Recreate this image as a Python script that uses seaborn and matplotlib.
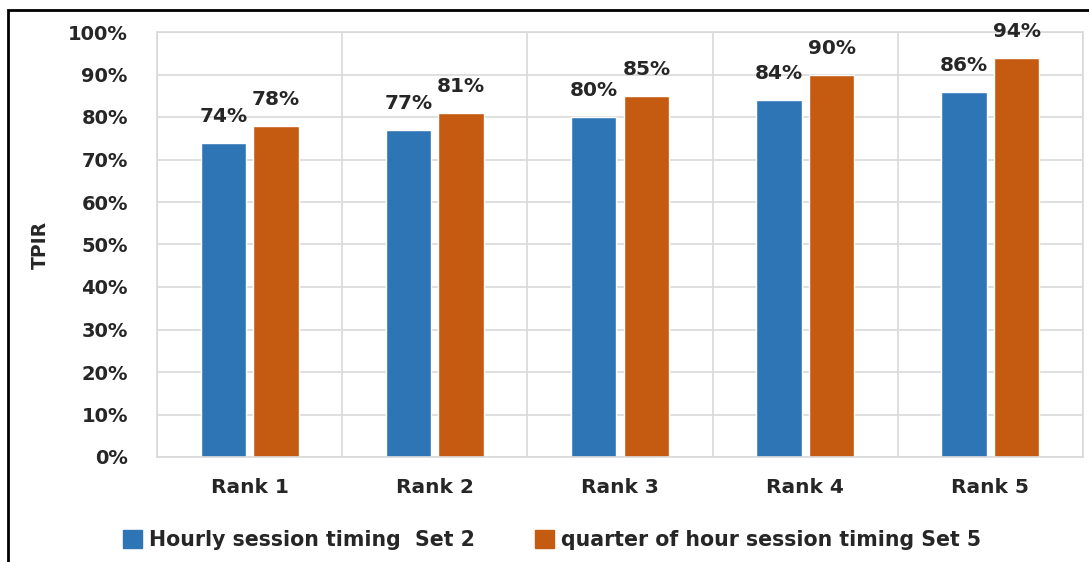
"""TPIR per rank for two session timing sets."""
import matplotlib
matplotlib.use('Agg')
import matplotlib.pyplot as plt
import pandas as pd
import seaborn as sns
from matplotlib.patches import Rectangle
from matplotlib.ticker import PercentFormatter, MultipleLocator, FixedLocator

# data
RANKS = ['Rank 1', 'Rank 2', 'Rank 3', 'Rank 4', 'Rank 5']
HOURLY_SET2 = [0.74, 0.77, 0.80, 0.84, 0.86]
QUARTER_SET5 = [0.78, 0.81, 0.85, 0.90, 0.94]
SERIES = ['Hourly session timing  Set 2', 'quarter of hour session timing Set 5']
COLORS = ['#2E75B6', '#C55A11']

df = pd.DataFrame({
    'rank': RANKS * 2,
    'tpir': HOURLY_SET2 + QUARTER_SET5,
    'series': [SERIES[0]] * len(RANKS) + [SERIES[1]] * len(RANKS),
})

sns.set_style('white')
plt.rcParams['font.family'] = ['DejaVu Sans']
TXT = '#262626'

fig = plt.figure(figsize=(10.89, 5.62), dpi=100)
ax = fig.add_axes([157 / 1089, 1 - 457 / 562, (1083 - 157) / 1089, (457 - 32) / 562])

sns.barplot(data=df, x='rank', y='tpir', hue='series', palette=COLORS,
            width=0.57, gap=0.14, saturation=1, ax=ax, legend=False)

# labels above the bars
for cont, vals in zip(ax.containers, [HOURLY_SET2, QUARTER_SET5]):
    ax.bar_label(cont, labels=['%d%%' % round(v * 100) for v in vals], padding=12,
                 fontsize=14.5, fontweight='bold', color=TXT)

ax.set_ylim(0, 1)
ax.set_xlim(-0.5, 4.5)
ax.yaxis.set_major_locator(MultipleLocator(0.1))
ax.yaxis.set_major_formatter(PercentFormatter(1.0, decimals=0))
ax.xaxis.set_minor_locator(FixedLocator([i - 0.5 for i in range(6)]))
ax.grid(axis='y', which='major', color='#D9D9D9', linewidth=1.2)
ax.grid(axis='x', which='minor', color='#D9D9D9', linewidth=1.2)
ax.set_axisbelow(True)
for sp in ax.spines.values():
    sp.set_color('#D9D9D9')
    sp.set_linewidth(1.2)

ax.tick_params(axis='y', labelsize=14, length=0, pad=21, labelcolor=TXT)
ax.tick_params(axis='x', which='both', length=0, pad=15)
for lbl in ax.get_yticklabels():
    lbl.set_fontweight('bold')
ax.set_xticks(range(len(RANKS)))
ax.set_xticklabels(RANKS, fontsize=14.5, fontweight='bold', color=TXT)
ax.set_xlabel('')
ax.set_ylabel('TPIR', fontsize=13.5, fontweight='bold', color=TXT, labelpad=13)

handles = [Rectangle((0, 0), 1, 1, color=c) for c in COLORS]
fig.legend(handles, SERIES, loc='center', bbox_to_anchor=(552 / 1089, 1 - 540 / 562), ncol=2,
           frameon=False, handlelength=0.95, handleheight=0.95, handletextpad=0.35,
           columnspacing=2.9, labelcolor=TXT, prop={'weight': 'bold', 'size': 14.8})

# outer frame
fig.patches.append(Rectangle((8 / 1089, -0.05), 1.1, 1 - 10 / 562 + 0.05, transform=fig.transFigure,
                             fill=False, edgecolor='black', linewidth=2))

fig.savefig('out.png', dpi=100)
